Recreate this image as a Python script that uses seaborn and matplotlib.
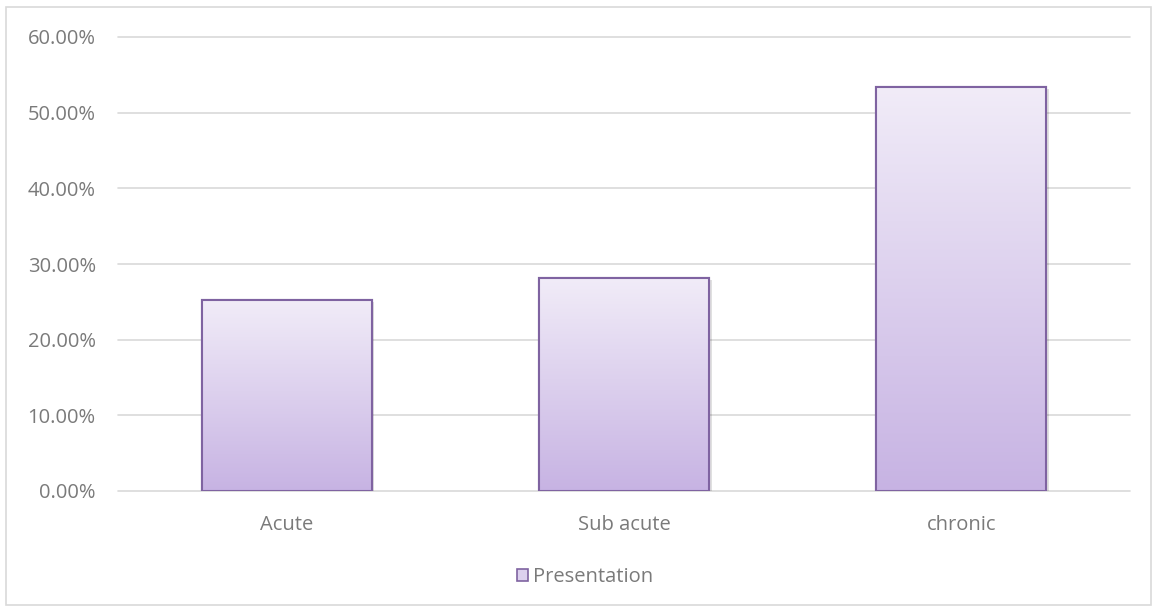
import numpy as np
import pandas as pd
import matplotlib
matplotlib.use("Agg")
import matplotlib.pyplot as plt
import seaborn as sns
from matplotlib.patches import Rectangle
from matplotlib.colors import LinearSegmentedColormap

categories = ["Acute", "Sub acute", "chronic"]
values = [25.2, 28.1, 53.4]
series_name = "Presentation"
yticks = [0, 10, 20, 30, 40, 50, 60]

sns.set_theme(style="white")
plt.rcParams['font.family'] = ['Open Sans', 'DejaVu Sans']

TXT = "#7A7A7A"
FS = 14.5
W, H = 1155, 607
fig = plt.figure(figsize=(W/100, H/100), dpi=100)
ax = fig.add_axes([118/W, 1-491/H, (1130-118)/W, (491-37)/H])

df = pd.DataFrame({"cat": categories, "val": values})
sns.barplot(data=df, x="cat", y="val", ax=ax, width=0.504,
            color="#DCD0EE", edgecolor="#7F63A1", linewidth=1.5, zorder=3)

cmap = LinearSegmentedColormap.from_list("g", ["#C7B3E3", "#F1ECF8"])
grad = np.linspace(0, 1, 256).reshape(-1, 1)
for p in list(ax.patches):
    x0, y0 = p.get_x(), p.get_y()
    w, h = p.get_width(), p.get_height()
    # soft shadow
    ax.add_patch(Rectangle((x0 + 0.008, y0), w, h - 0.25, facecolor="#000000",
                           alpha=0.12, edgecolor="none", zorder=2.5))
    im = ax.imshow(grad, extent=[x0, x0+w, y0, y0+h], origin="lower",
                   cmap=cmap, aspect="auto", zorder=3.5)
    im.set_clip_path(p)
    ax.add_patch(Rectangle((x0, y0), w, h, fill=False, edgecolor="#7F63A1",
                           linewidth=1.5, zorder=4))

ax.set_xlim(-0.5, 2.5)
ax.set_ylim(0, 60)
ax.set_yticks(yticks)
ax.set_yticklabels([f"{t:.2f}%" for t in yticks], color=TXT, fontsize=FS)
ax.tick_params(axis="x", colors=TXT, labelsize=FS, length=0, pad=17)
ax.tick_params(axis="y", length=0, pad=16)
ax.set_xlabel("")
ax.set_ylabel("")
ax.yaxis.grid(True, color="#D9D9D9", linewidth=1.2)
for gl in ax.yaxis.get_gridlines():
    gl.set_clip_on(False)
ax.set_axisbelow(True)
for s in ax.spines.values():
    s.set_visible(False)

# legend
fig.patches.append(Rectangle((517/W, 1-581/H), 11/W, 12/H, transform=fig.transFigure,
                             facecolor="#DCD0EE", edgecolor="#7F63A1", linewidth=1.2))
fig.text(533/W, 1-577/H, series_name, color=TXT, fontsize=FS, va="center", ha="left")

# border
fig.patches.append(Rectangle((6/W, 2/H), (W-10)/W, (H-9)/H, transform=fig.transFigure,
                             fill=False, edgecolor="#D9D9D9", linewidth=1.2))

fig.savefig("out.png", dpi=100)
